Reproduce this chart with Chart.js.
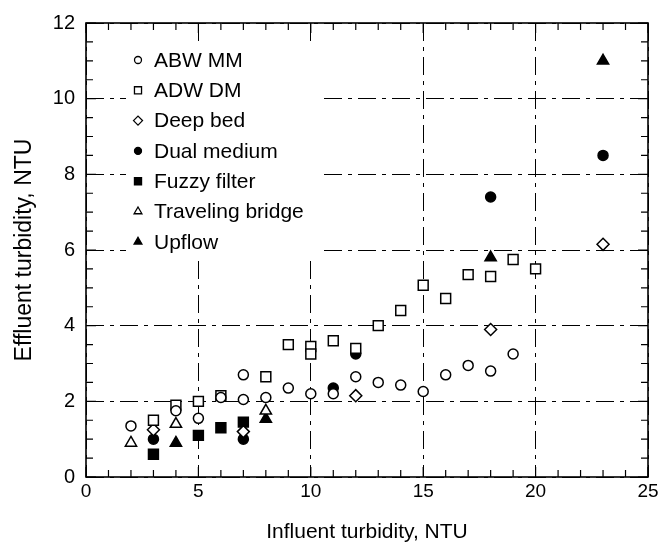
<!DOCTYPE html>
<html><head><meta charset="utf-8">
<script src="https://cdn.jsdelivr.net/npm/chart.js@4/dist/chart.umd.min.js"></script>
<style>html,body{margin:0;padding:0;background:#fff}</style>
</head><body>
<canvas id="c" width="664" height="544"></canvas>
<script>
// ---- data ----
const seriesNames = ['ABW MM', 'ADW DM', 'Deep bed', 'Dual medium', 'Fuzzy filter', 'Traveling bridge', 'Upflow'];

const abwX = [2, 4, 5, 6, 7, 7, 8, 9, 10, 11, 12, 13, 14, 15, 16, 17, 18, 19];
const abwY = [1.35, 1.75, 1.55, 2.1, 2.05, 2.7, 2.1, 2.35, 2.2, 2.2, 2.65, 2.5, 2.43, 2.26, 2.7, 2.95, 2.8, 3.25];

const adwX = [3, 4, 5, 6, 8, 9, 10, 10, 11, 12, 13, 14, 15, 16, 17, 18, 19, 20];
const adwY = [1.5, 1.9, 2.0, 2.15, 2.65, 3.5, 3.45, 3.25, 3.6, 3.4, 4.0, 4.4, 5.07, 4.72, 5.35, 5.3, 5.75, 5.5];

const deepX = [3, 7, 12, 18, 23];
const deepY = [1.25, 1.2, 2.15, 3.9, 6.15];

const dualX = [3, 7, 11, 12, 18, 23];
const dualY = [1.0, 1.0, 2.35, 3.25, 7.4, 8.5];

const fuzzyX = [3, 5, 6, 7];
const fuzzyY = [0.6, 1.1, 1.3, 1.45];

const travX = [2, 4, 8];
const travY = [0.9, 1.4, 1.75];

const upX = [4, 8, 18, 23];
const upY = [0.9, 1.53, 5.8, 11.0];

const xTicks = [0, 5, 10, 15, 20, 25];
const yTicks = [0, 2, 4, 6, 8, 10, 12];
const xMinorStep = 1;
const yMinorStep = 0.5;

const xTitle = 'Influent turbidity, NTU';
const yTitle = 'Effluent turbidity, NTU';

// ---- styling ----
const FONT = "'Liberation Sans', Arial, Helvetica, sans-serif";
const styles = [
  {style: 'circle',   r: 5,   fill: false, lr: 3.5},
  {style: 'rect',     r: 7,   fill: false, lr: 5},
  {style: 'rectRot',  r: 6,   fill: false, lr: 4.5},
  {style: 'circle',   r: 5,   fill: true,  lr: 3.5},
  {style: 'rect',     r: 7,   fill: true,  lr: 5},
  {style: 'triangle', r: 6.5, fill: false, lr: 4.5},
  {style: 'triangle', r: 6.5, fill: true,  lr: 4.5}
];
const seriesX = [abwX, adwX, deepX, dualX, fuzzyX, travX, upX];
const seriesY = [abwY, adwY, deepY, dualY, fuzzyY, travY, upY];

const datasets = seriesNames.map((name, i) => ({
  label: name,
  data: seriesX[i].map((x, j) => ({x: x, y: seriesY[i][j]})),
  pointStyle: styles[i].style,
  pointRadius: styles[i].r,
  pointHoverRadius: styles[i].r,
  pointBorderWidth: 1.5,
  borderColor: '#000',
  backgroundColor: styles[i].fill ? '#000' : '#fff',
  showLine: false
}));

function range(min, max, step) {
  const out = [];
  for (let v = min; v <= max + 1e-9; v += step) out.push(Math.round(v * 1000) / 1000);
  return out;
}

const LEG = {mx: 52, tx: 68, y0: 37, dy: 30.3, font: 21};

const framePlugin = {
  id: 'frame',
  beforeDatasetsDraw(chart) {
    const {ctx, chartArea: a, scales: {x, y}} = chart;
    ctx.save();
    // white legend backdrop (grid is broken behind the key in the reference)
    ctx.font = LEG.font + 'px ' + FONT;
    let w = 0;
    chart.data.datasets.forEach(ds => { w = Math.max(w, ctx.measureText(ds.label).width); });
    ctx.fillStyle = '#fff';
    ctx.fillRect(a.left + LEG.mx - 12, a.top + LEG.y0 - 18, (LEG.tx - LEG.mx) + w + 30, LEG.dy * 6 + 36);

    ctx.strokeStyle = '#000';
    ctx.lineWidth = 1.2;
    ctx.beginPath();
    range(x.min, x.max, xMinorStep).forEach(v => {
      const px = x.getPixelForValue(v);
      const L = xTicks.includes(v) ? 10 : 7;
      ctx.moveTo(px, a.bottom); ctx.lineTo(px, a.bottom - L);
      ctx.moveTo(px, a.top); ctx.lineTo(px, a.top + L);
    });
    range(y.min, y.max, yMinorStep).forEach(v => {
      const py = y.getPixelForValue(v);
      const L = yTicks.includes(v) ? 10 : 7;
      ctx.moveTo(a.left, py); ctx.lineTo(a.left + L, py);
      ctx.moveTo(a.right, py); ctx.lineTo(a.right - L, py);
    });
    ctx.stroke();
    ctx.lineWidth = 1.6;
    ctx.strokeRect(a.left, a.top, a.right - a.left, a.bottom - a.top);
    ctx.restore();
  },
  afterDraw(chart) {
    const {ctx, chartArea: a} = chart;
    ctx.save();
    const mx = a.left + LEG.mx, tx = a.left + LEG.tx, y0 = a.top + LEG.y0, dy = LEG.dy;
    ctx.font = LEG.font + 'px ' + FONT;
    ctx.textBaseline = 'middle';
    chart.data.datasets.forEach((ds, i) => {
      const yy = y0 + i * dy;
      ctx.strokeStyle = '#000';
      ctx.fillStyle = ds.backgroundColor;
      ctx.lineWidth = 1.3;
      Chart.helpers.drawPoint(ctx, {pointStyle: ds.pointStyle, radius: styles[i].lr, rotation: 0, borderWidth: 1.3}, mx, yy);
      ctx.fillStyle = '#000';
      ctx.fillText(ds.label, tx, yy + 1);
    });
    ctx.restore();
  }
};

new Chart(document.getElementById('c'), {
  type: 'scatter',
  data: {datasets: datasets},
  options: {
    responsive: false,
    animation: false,
    devicePixelRatio: 1,
    layout: {padding: {left: 0, right: 16, top: 16, bottom: 0}},
    plugins: {legend: {display: false}, tooltip: {enabled: false}},
    scales: {
      x: {
        type: 'linear', min: 0, max: 25,
        afterBuildTicks: s => { s.ticks = xTicks.map(v => ({value: v})); },
        afterFit: s => { s.height = 67; },
        grid: {color: '#000', lineWidth: 1, drawTicks: false},
        border: {display: false, dash: [18, 6, 4, 6]},
        ticks: {color: '#000', font: {family: FONT, size: 19}, padding: 3, maxRotation: 0},
        title: {display: true, text: xTitle, color: '#000', font: {family: FONT, size: 21, lineHeight: 1}, padding: {top: 0, bottom: 1}}
      },
      y: {
        type: 'linear', min: 0, max: 12,
        afterBuildTicks: s => { s.ticks = yTicks.map(v => ({value: v})); },
        afterFit: s => { s.width = 86; },
        grid: {color: '#000', lineWidth: 1, drawTicks: false},
        border: {display: false, dash: [18, 6, 4, 6]},
        ticks: {color: '#000', font: {family: FONT, size: 20}, padding: 11},
        title: {display: true, text: yTitle, color: '#000', font: {family: FONT, size: 23, lineHeight: 1}, padding: {top: 13, bottom: 0}}
      }
    }
  },
  plugins: [framePlugin]
});
</script>
</body></html>
